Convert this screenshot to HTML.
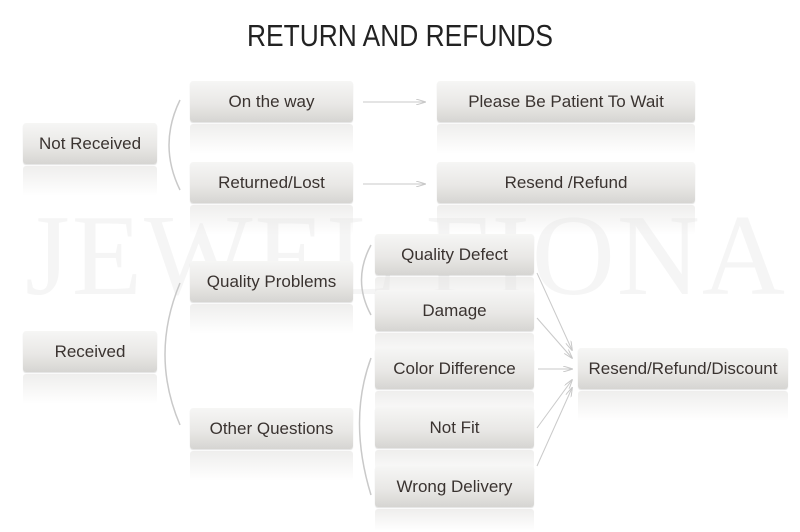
<!DOCTYPE html>
<html><head><meta charset="utf-8"><style>
html,body{margin:0;width:800px;height:532px;overflow:hidden}
body{background:#fff;position:relative;font-family:"Liberation Sans",sans-serif}
.wm{position:absolute;left:25px;top:190px;font-family:"Liberation Serif",serif;font-size:115px;color:#f5f5f5;letter-spacing:2px;white-space:nowrap}
.t{position:absolute;left:0;width:800px;top:18px;text-align:center;font-size:31px;color:#222;transform:scaleX(0.85)}
.b{position:absolute;height:41px;line-height:41px;text-align:center;font-size:17px;color:#3a3330;border-radius:3px;
background:linear-gradient(#f6f6f5,#e9e8e6 55%,#d6d5d2);box-shadow:0 1px 1px rgba(0,0,0,.12)}
.b::after{content:"";position:absolute;left:0;right:0;top:43px;height:30px;background:linear-gradient(rgba(225,224,222,.55),rgba(255,255,255,0));border-radius:3px}
.last::after{height:22px}
svg{position:absolute;left:0;top:0}
</style></head><body>
<div class="wm">JEWEL FIONA</div>
<div class="t">RETURN AND REFUNDS</div>
<div class="b" style="left:23px;top:123px;width:134px">Not Received</div>
<div class="b" style="left:190px;top:81px;width:163px">On the way</div>
<div class="b" style="left:190px;top:162px;width:163px">Returned/Lost</div>
<div class="b" style="left:437px;top:81px;width:258px">Please Be Patient To Wait</div>
<div class="b" style="left:437px;top:162px;width:258px">Resend /Refund</div>
<div class="b" style="left:190px;top:261px;width:163px">Quality Problems</div>
<div class="b" style="left:23px;top:331px;width:134px">Received</div>
<div class="b" style="left:190px;top:408px;width:163px">Other Questions</div>
<div class="b" style="left:375px;top:234px;width:159px">Quality Defect</div>
<div class="b" style="left:375px;top:290px;width:159px">Damage</div>
<div class="b" style="left:375px;top:348px;width:159px">Color Difference</div>
<div class="b" style="left:375px;top:407px;width:159px">Not Fit</div>
<div class="b last" style="left:375px;top:466px;width:159px">Wrong Delivery</div>
<div class="b" style="left:578px;top:348px;width:210px">Resend/Refund/Discount</div>
<svg width="800" height="532" viewBox="0 0 800 532">
<defs><marker id="a" markerWidth="10" markerHeight="6" refX="9" refY="3" orient="auto" markerUnits="userSpaceOnUse"><path d="M0,0 L10,3 L0,6" fill="none" stroke="#c8c8c8" stroke-width="1"/></marker></defs>
<g fill="none" stroke="#c9c9c9" stroke-width="1.5">
<path d="M180,100 Q158,145 180,190"/>
<path d="M180,283 Q150,355 180,425"/>
<path d="M371,245 Q352,280 371,315"/>
<path d="M371,358 Q348,420 371,495"/>
</g>
<g stroke="#cacaca" stroke-width="1" marker-end="url(#a)">
<line x1="363" y1="102" x2="425" y2="102"/>
<line x1="363" y1="184" x2="425" y2="184"/>
<line x1="537" y1="273" x2="572" y2="350"/>
<line x1="537" y1="318" x2="572" y2="358"/>
<line x1="538" y1="369" x2="572" y2="369"/>
<line x1="537" y1="428" x2="572" y2="380"/>
<line x1="537" y1="466" x2="572" y2="388"/>
</g>
</svg>
</body></html>
